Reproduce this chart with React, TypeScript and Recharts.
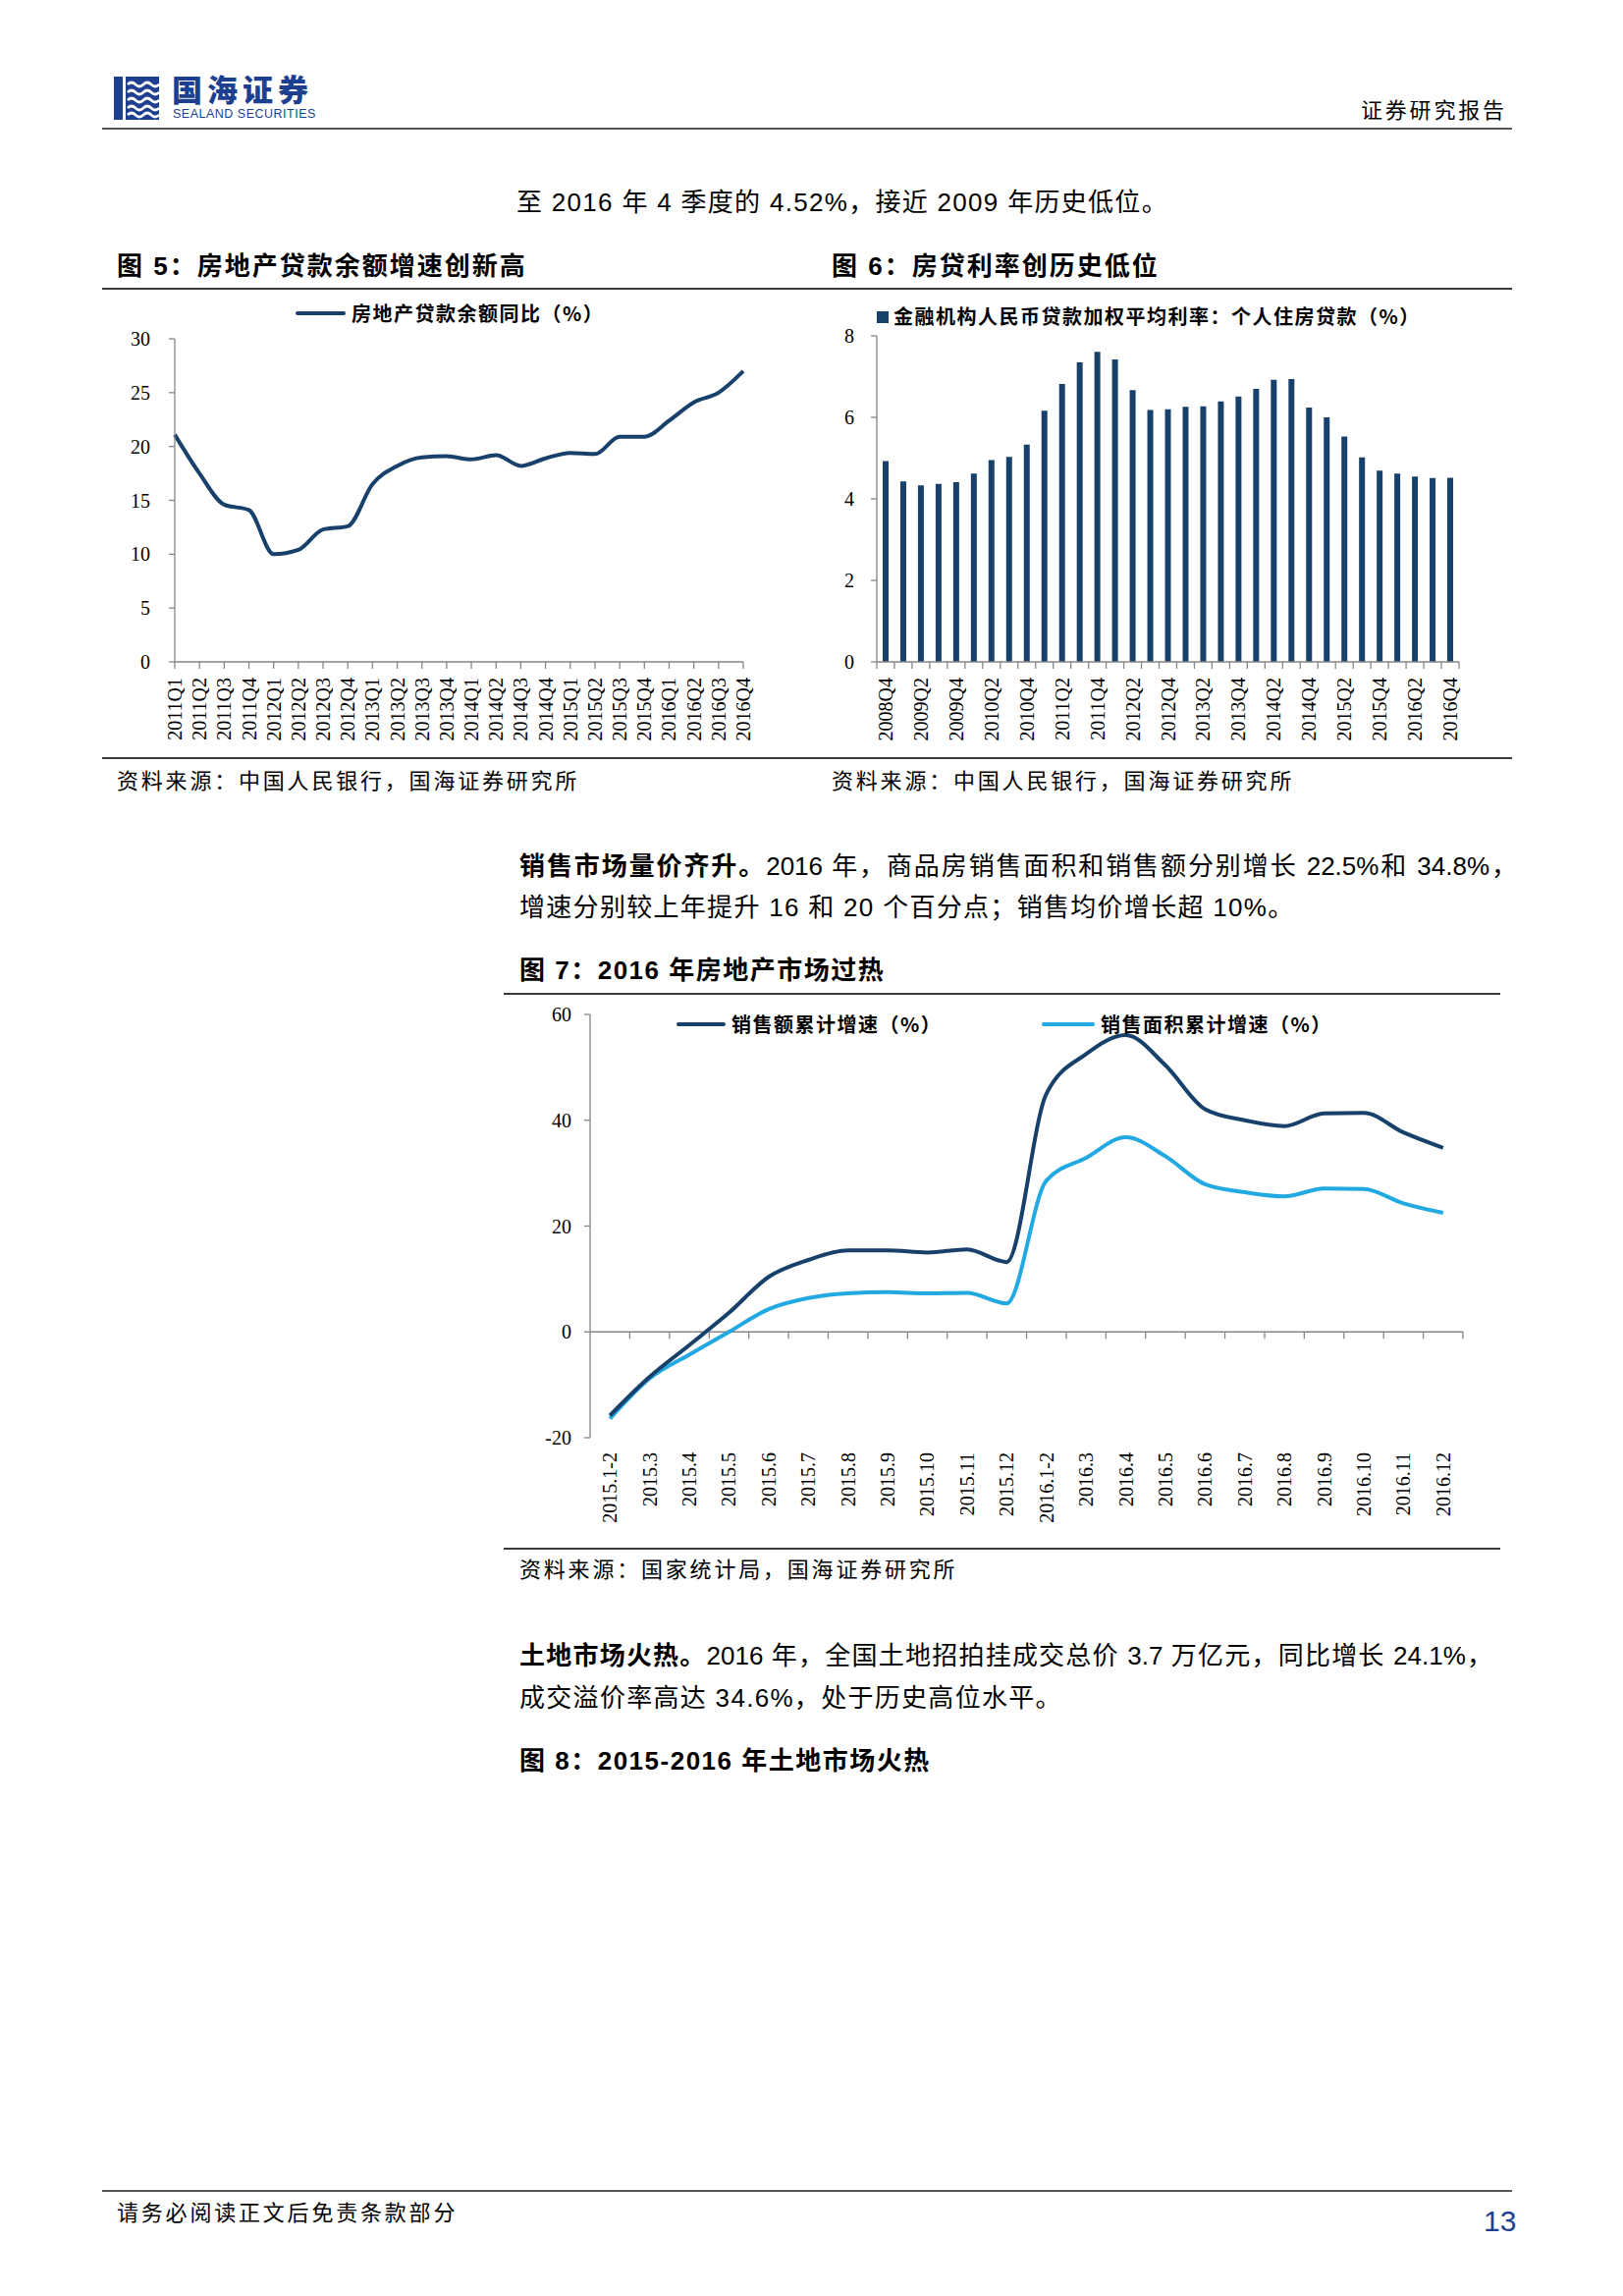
import React from 'react'
import { LineChart, Line, BarChart, Bar, XAxis, YAxis, ReferenceLine } from 'recharts'

const SERIF = "'Liberation Serif', 'Times New Roman', 'Noto Sans CJK SC', serif"
const SANS = "'Liberation Sans', Arial, 'Noto Sans CJK SC', sans-serif"
const CJK = "'Noto Sans CJK SC', 'Liberation Sans', sans-serif"
const AXIS = '#868686'
const NAVY = '#17406a'
const SKY = '#22a9e1'
const LOGO = '#1d3f8f'

// fig 5: real estate loan balance yoy
const loanQuarters = [
  '2011Q1', '2011Q2', '2011Q3', '2011Q4', '2012Q1', '2012Q2', '2012Q3', '2012Q4',
  '2013Q1', '2013Q2', '2013Q3', '2013Q4', '2014Q1', '2014Q2', '2014Q3', '2014Q4',
  '2015Q1', '2015Q2', '2015Q3', '2015Q4', '2016Q1', '2016Q2', '2016Q3', '2016Q4',
]
const loanGrowth = [
  21.1, 17.5, 14.6, 14.1, 10.0, 10.4, 12.3, 12.6,
  16.5, 18.2, 19.0, 19.1, 18.8, 19.2, 18.2, 18.9,
  19.4, 19.3, 20.9, 20.9, 22.4, 24.1, 25.0, 27.0,
]
const loanTicks = [0, 5, 10, 15, 20, 25, 30]

// fig 6: weighted mortgage rate
const rateQuarters = [
  '2008Q4', '2009Q1', '2009Q2', '2009Q3', '2009Q4', '2010Q1', '2010Q2', '2010Q3', '2010Q4',
  '2011Q1', '2011Q2', '2011Q3', '2011Q4', '2012Q1', '2012Q2', '2012Q3', '2012Q4',
  '2013Q1', '2013Q2', '2013Q3', '2013Q4', '2014Q1', '2014Q2', '2014Q3', '2014Q4',
  '2015Q1', '2015Q2', '2015Q3', '2015Q4', '2016Q1', '2016Q2', '2016Q3', '2016Q4',
]
const mortgageRate = [
  4.93, 4.43, 4.33, 4.37, 4.41, 4.62, 4.95, 5.03, 5.33,
  6.16, 6.82, 7.35, 7.61, 7.42, 6.67, 6.18, 6.20,
  6.26, 6.27, 6.39, 6.51, 6.70, 6.92, 6.94, 6.24,
  6.00, 5.53, 5.02, 4.69, 4.62, 4.55, 4.51, 4.52,
]
const rateTicks = [0, 2, 4, 6, 8]

// fig 7: cumulative sales growth
const salesMonths = [
  '2015.1-2', '2015.3', '2015.4', '2015.5', '2015.6', '2015.7', '2015.8', '2015.9',
  '2015.10', '2015.11', '2015.12', '2016.1-2', '2016.3', '2016.4', '2016.5', '2016.6',
  '2016.7', '2016.8', '2016.9', '2016.10', '2016.11', '2016.12',
]
const salesAmount = [
  -15.8, -8.5, -2.5, 3.6, 10.4, 13.6, 15.4, 15.4, 15.0, 15.6, 13.2,
  45.0, 52.5, 56.1, 50.4, 42.1, 40.0, 38.9, 41.3, 41.4, 37.7, 34.8,
]
const salesArea = [
  -16.4, -8.8, -4.3, 0.0, 4.3, 6.4, 7.3, 7.5, 7.3, 7.4, 5.4,
  28.6, 32.9, 36.8, 33.2, 27.9, 26.4, 25.6, 27.1, 27.0, 24.3, 22.5,
]
const salesTicks = [-20, 0, 20, 40, 60]

const loanData = loanQuarters.map((q, i) => ({ q, v: loanGrowth[i] }))
const rateData = rateQuarters.map((q, i) => ({ q, v: mortgageRate[i] }))
const salesData = salesMonths.map((m, i) => ({ m, amount: salesAmount[i], area: salesArea[i] }))

// chart 7 geometry (band-like layout on a point axis)
const C7 = { w: 1013, h: 562, left: 20, yw: 66, right: 38 }
const C7_PLOT = C7.w - C7.left - C7.yw - C7.right
const C7_BAND = C7_PLOT / salesMonths.length

const axisTick = { fill: '#000', fontSize: 20, fontFamily: SERIF }

function RotLabel({ x, y, text }: { x: number; y: number; text: string }) {
  return (
    <text
      x={x}
      y={y}
      transform={`rotate(-90 ${x} ${y})`}
      textAnchor="end"
      dy="0.35em"
      fill="#000"
      fontSize={20}
      fontFamily={SERIF}
    >
      {text}
    </text>
  )
}

function QuarterTick(props: any) {
  const { x, y, payload } = props
  return <RotLabel x={x} y={y} text={payload.value} />
}

function RateTick(props: any) {
  const { x, y, payload, index } = props
  const half = payload.offset || 9
  return (
    <g>
      <line x1={x - half} y1={y} x2={x - half} y2={y + 7} stroke={AXIS} strokeWidth={1.3} />
      {index === rateQuarters.length - 1 && (
        <line x1={x + half} y1={y} x2={x + half} y2={y + 7} stroke={AXIS} strokeWidth={1.3} />
      )}
      {index % 2 === 0 && <RotLabel x={x} y={y + 16} text={payload.value} />}
    </g>
  )
}

function MonthTick(props: any) {
  const { x, y, payload } = props
  return <RotLabel x={x} y={y + 15} text={payload.value} />
}

function ZeroAxis(props: any) {
  const { x1, y1, x2, y2 } = props
  const n = salesMonths.length
  const step = (x2 - x1) / n
  const marks = []
  for (let i = 1; i <= n; i++) {
    marks.push(
      <line key={i} x1={x1 + step * i} y1={y1} x2={x1 + step * i} y2={y1 + 7} stroke={AXIS} strokeWidth={1.3} />
    )
  }
  return (
    <g>
      <line x1={x1} y1={y1} x2={x2} y2={y2} stroke={AXIS} strokeWidth={1.3} />
      {marks}
    </g>
  )
}

const abs = (left: number, top: number, extra: React.CSSProperties = {}): React.CSSProperties => ({
  position: 'absolute',
  left,
  top,
  ...extra,
})

function Txt({ x, y, size = 26, bold = false, ls = 0, color = '#000', font = SANS, children, w, justify }: any) {
  const lh = Math.round(size * 1.6)
  return (
    <div
      style={abs(x, y - lh / 2, {
        fontSize: size,
        lineHeight: `${lh}px`,
        fontWeight: bold ? 700 : 400,
        letterSpacing: ls,
        color,
        fontFamily: font,
        whiteSpace: justify ? 'normal' : 'nowrap',
        width: w,
        textAlign: justify ? 'justify' : 'left',
        textAlignLast: justify ? 'justify' : 'auto',
      })}
    >
      {children}
    </div>
  )
}

function HLine({ x1, x2, y, c = '#3a3a3a', t = 2 }: any) {
  return <div style={abs(x1, y - t / 2, { width: x2 - x1, height: t, background: c })} />
}

function LegendLine({ x, y, w, color, label }: any) {
  return (
    <>
      <div style={abs(x, y - 2, { width: w, height: 4, background: color, borderRadius: 2 })} />
      <Txt x={x + w + 6} y={y} size={20} bold ls={1.5} font={CJK}>{label}</Txt>
    </>
  )
}

function Logo() {
  return (
    <>
      <svg style={abs(116, 78)} width={46} height={44} viewBox="0 0 46 44">
        <rect x={0} y={0} width={46} height={44} fill={LOGO} />
        <rect x={9} y={0} width={3} height={44} fill="#fff" />
        {[8, 16, 24, 32, 39].map((yy) => (
          <path
            key={yy}
            d={`M14 ${yy} q 4 -4 8 0 t 8 0 t 8 0 t 8 0`}
            stroke="#fff"
            strokeWidth={2.6}
            fill="none"
          />
        ))}
      </svg>
      <div style={abs(175, 73, { fontSize: 31, fontWeight: 900, color: LOGO, fontFamily: CJK, letterSpacing: 5, lineHeight: '34px' })}>
        国海证券
      </div>
      <div style={abs(176, 109, { fontSize: 12.5, color: LOGO, fontFamily: SANS, lineHeight: '14px', letterSpacing: 0.5 })}>
        SEALAND SECURITIES
      </div>
    </>
  )
}

export default function App() {
  return (
    <div style={abs(0, 0, { width: 1653, height: 2338, background: '#fff', overflow: 'hidden' })}>
      <Logo />
      <Txt x={1386} y={110} size={22} ls={2.8} font={CJK}>证券研究报告</Txt>
      <HLine x1={104} x2={1540} y={131} c="#555" />

      <Txt x={526} y={206} size={26} ls={1.3}>至 2016 年 4 季度的 4.52%，接近 2009 年历史低位。</Txt>

      {/* fig 5 */}
      <Txt x={119} y={271} size={26} bold ls={2}>图 5：房地产贷款余额增速创新高</Txt>
      <Txt x={847} y={271} size={26} bold ls={2}>图 6：房贷利率创历史低位</Txt>
      <HLine x1={104} x2={1540} y={294} />

      <div style={abs(100, 300)}>
        <LineChart width={720} height={472} data={loanData} margin={{ top: 45, right: 63, bottom: 6, left: 18 }}>
          <XAxis
            dataKey="q"
            interval={0}
            height={92}
            tick={<QuarterTick />}
            tickSize={7}
            tickMargin={9}
            axisLine={{ stroke: AXIS, strokeWidth: 1.3 }}
            tickLine={{ stroke: AXIS, strokeWidth: 1.3 }}
          />
          <YAxis
            width={60}
            domain={[0, 30]}
            ticks={loanTicks}
            tick={axisTick}
            tickSize={6}
            tickMargin={19}
            axisLine={{ stroke: AXIS, strokeWidth: 1.3 }}
            tickLine={{ stroke: AXIS, strokeWidth: 1.3 }}
          />
          <Line type="monotone" dataKey="v" stroke={NAVY} strokeWidth={4} dot={false} isAnimationActive={false} />
        </LineChart>
      </div>
      <LegendLine x={301} y={319} w={51} color={NAVY} label="房地产贷款余额同比（%）" />

      {/* fig 6 */}
      <div style={abs(830, 300)}>
        <BarChart width={700} height={472} data={rateData} margin={{ top: 42, right: 44, bottom: 6, left: 18 }}>
          <XAxis
            dataKey="q"
            interval={0}
            height={92}
            tick={<RateTick />}
            tickSize={0}
            tickMargin={0}
            tickLine={false}
            axisLine={{ stroke: AXIS, strokeWidth: 1.3 }}
          />
          <YAxis
            width={45}
            domain={[0, 8]}
            ticks={rateTicks}
            tick={axisTick}
            tickSize={6}
            tickMargin={17}
            axisLine={{ stroke: AXIS, strokeWidth: 1.3 }}
            tickLine={{ stroke: AXIS, strokeWidth: 1.3 }}
          />
          <Bar dataKey="v" fill={NAVY} barSize={6} isAnimationActive={false} />
        </BarChart>
      </div>
      <div style={abs(893, 317, { width: 12, height: 12, background: NAVY })} />
      <Txt x={910} y={322} size={20} bold ls={1.5} font={CJK}>金融机构人民币贷款加权平均利率：个人住房贷款（%）</Txt>

      <HLine x1={104} x2={1540} y={772} />
      <Txt x={119} y={793} size={22} ls={2.8} font={CJK}>资料来源：中国人民银行，国海证券研究所</Txt>
      <Txt x={847} y={793} size={22} ls={2.8} font={CJK}>资料来源：中国人民银行，国海证券研究所</Txt>

      {/* paragraph */}
      <Txt x={529} y={882} size={26} w={1016} justify>
        <b>销售市场量价齐升。</b>2016 年，商品房销售面积和销售额分别增长 22.5%和 34.8%，
      </Txt>
      <Txt x={529} y={924} size={26} ls={1.3}>增速分别较上年提升 16 和 20 个百分点；销售均价增长超 10%。</Txt>

      {/* fig 7 */}
      <Txt x={529} y={988} size={26} bold ls={1.5}>图 7：2016 年房地产市场过热</Txt>
      <HLine x1={513} x2={1528} y={1012} />

      <div style={abs(515, 1015)}>
        <LineChart
          width={C7.w}
          height={C7.h}
          data={salesData}
          margin={{ top: 18, right: C7.right, bottom: 13, left: C7.left }}
        >
          <XAxis
            dataKey="m"
            interval={0}
            height={100}
            padding={{ left: C7_BAND / 2, right: C7_BAND / 2 }}
            tick={<MonthTick />}
            tickSize={0}
            tickMargin={0}
            tickLine={false}
            axisLine={false}
          />
          <YAxis
            width={C7.yw}
            domain={[-20, 60]}
            ticks={salesTicks}
            tick={axisTick}
            tickSize={6}
            tickMargin={13}
            axisLine={{ stroke: AXIS, strokeWidth: 1.3 }}
            tickLine={{ stroke: AXIS, strokeWidth: 1.3 }}
          />
          <ReferenceLine y={0} shape={(p: any) => <ZeroAxis {...p} />} />
          <Line type="monotone" dataKey="area" stroke={SKY} strokeWidth={4} dot={false} isAnimationActive={false} />
          <Line type="monotone" dataKey="amount" stroke={NAVY} strokeWidth={4} dot={false} isAnimationActive={false} />
        </LineChart>
      </div>
      <LegendLine x={689} y={1043} w={50} color={NAVY} label="销售额累计增速（%）" />
      <LegendLine x={1061} y={1043} w={54} color={SKY} label="销售面积累计增速（%）" />

      <HLine x1={513} x2={1528} y={1577} />
      <Txt x={529} y={1596} size={22} ls={2.8} font={CJK}>资料来源：国家统计局，国海证券研究所</Txt>

      <Txt x={529} y={1686} size={26} w={991} justify>
        <b>土地市场火热。</b>2016 年，全国土地招拍挂成交总价 3.7 万亿元，同比增长 24.1%，
      </Txt>
      <Txt x={529} y={1729} size={26} ls={1.3}>成交溢价率高达 34.6%，处于历史高位水平。</Txt>
      <Txt x={529} y={1793} size={26} bold ls={1.5}>图 8：2015-2016 年土地市场火热</Txt>

      {/* footer */}
      <HLine x1={104} x2={1540} y={2231} c="#555" />
      <Txt x={119} y={2251} size={22} ls={2.8} font={CJK}>请务必阅读正文后免责条款部分</Txt>
      <Txt x={1511} y={2262} size={30} color={LOGO} font={SANS}>13</Txt>
    </div>
  )
}
